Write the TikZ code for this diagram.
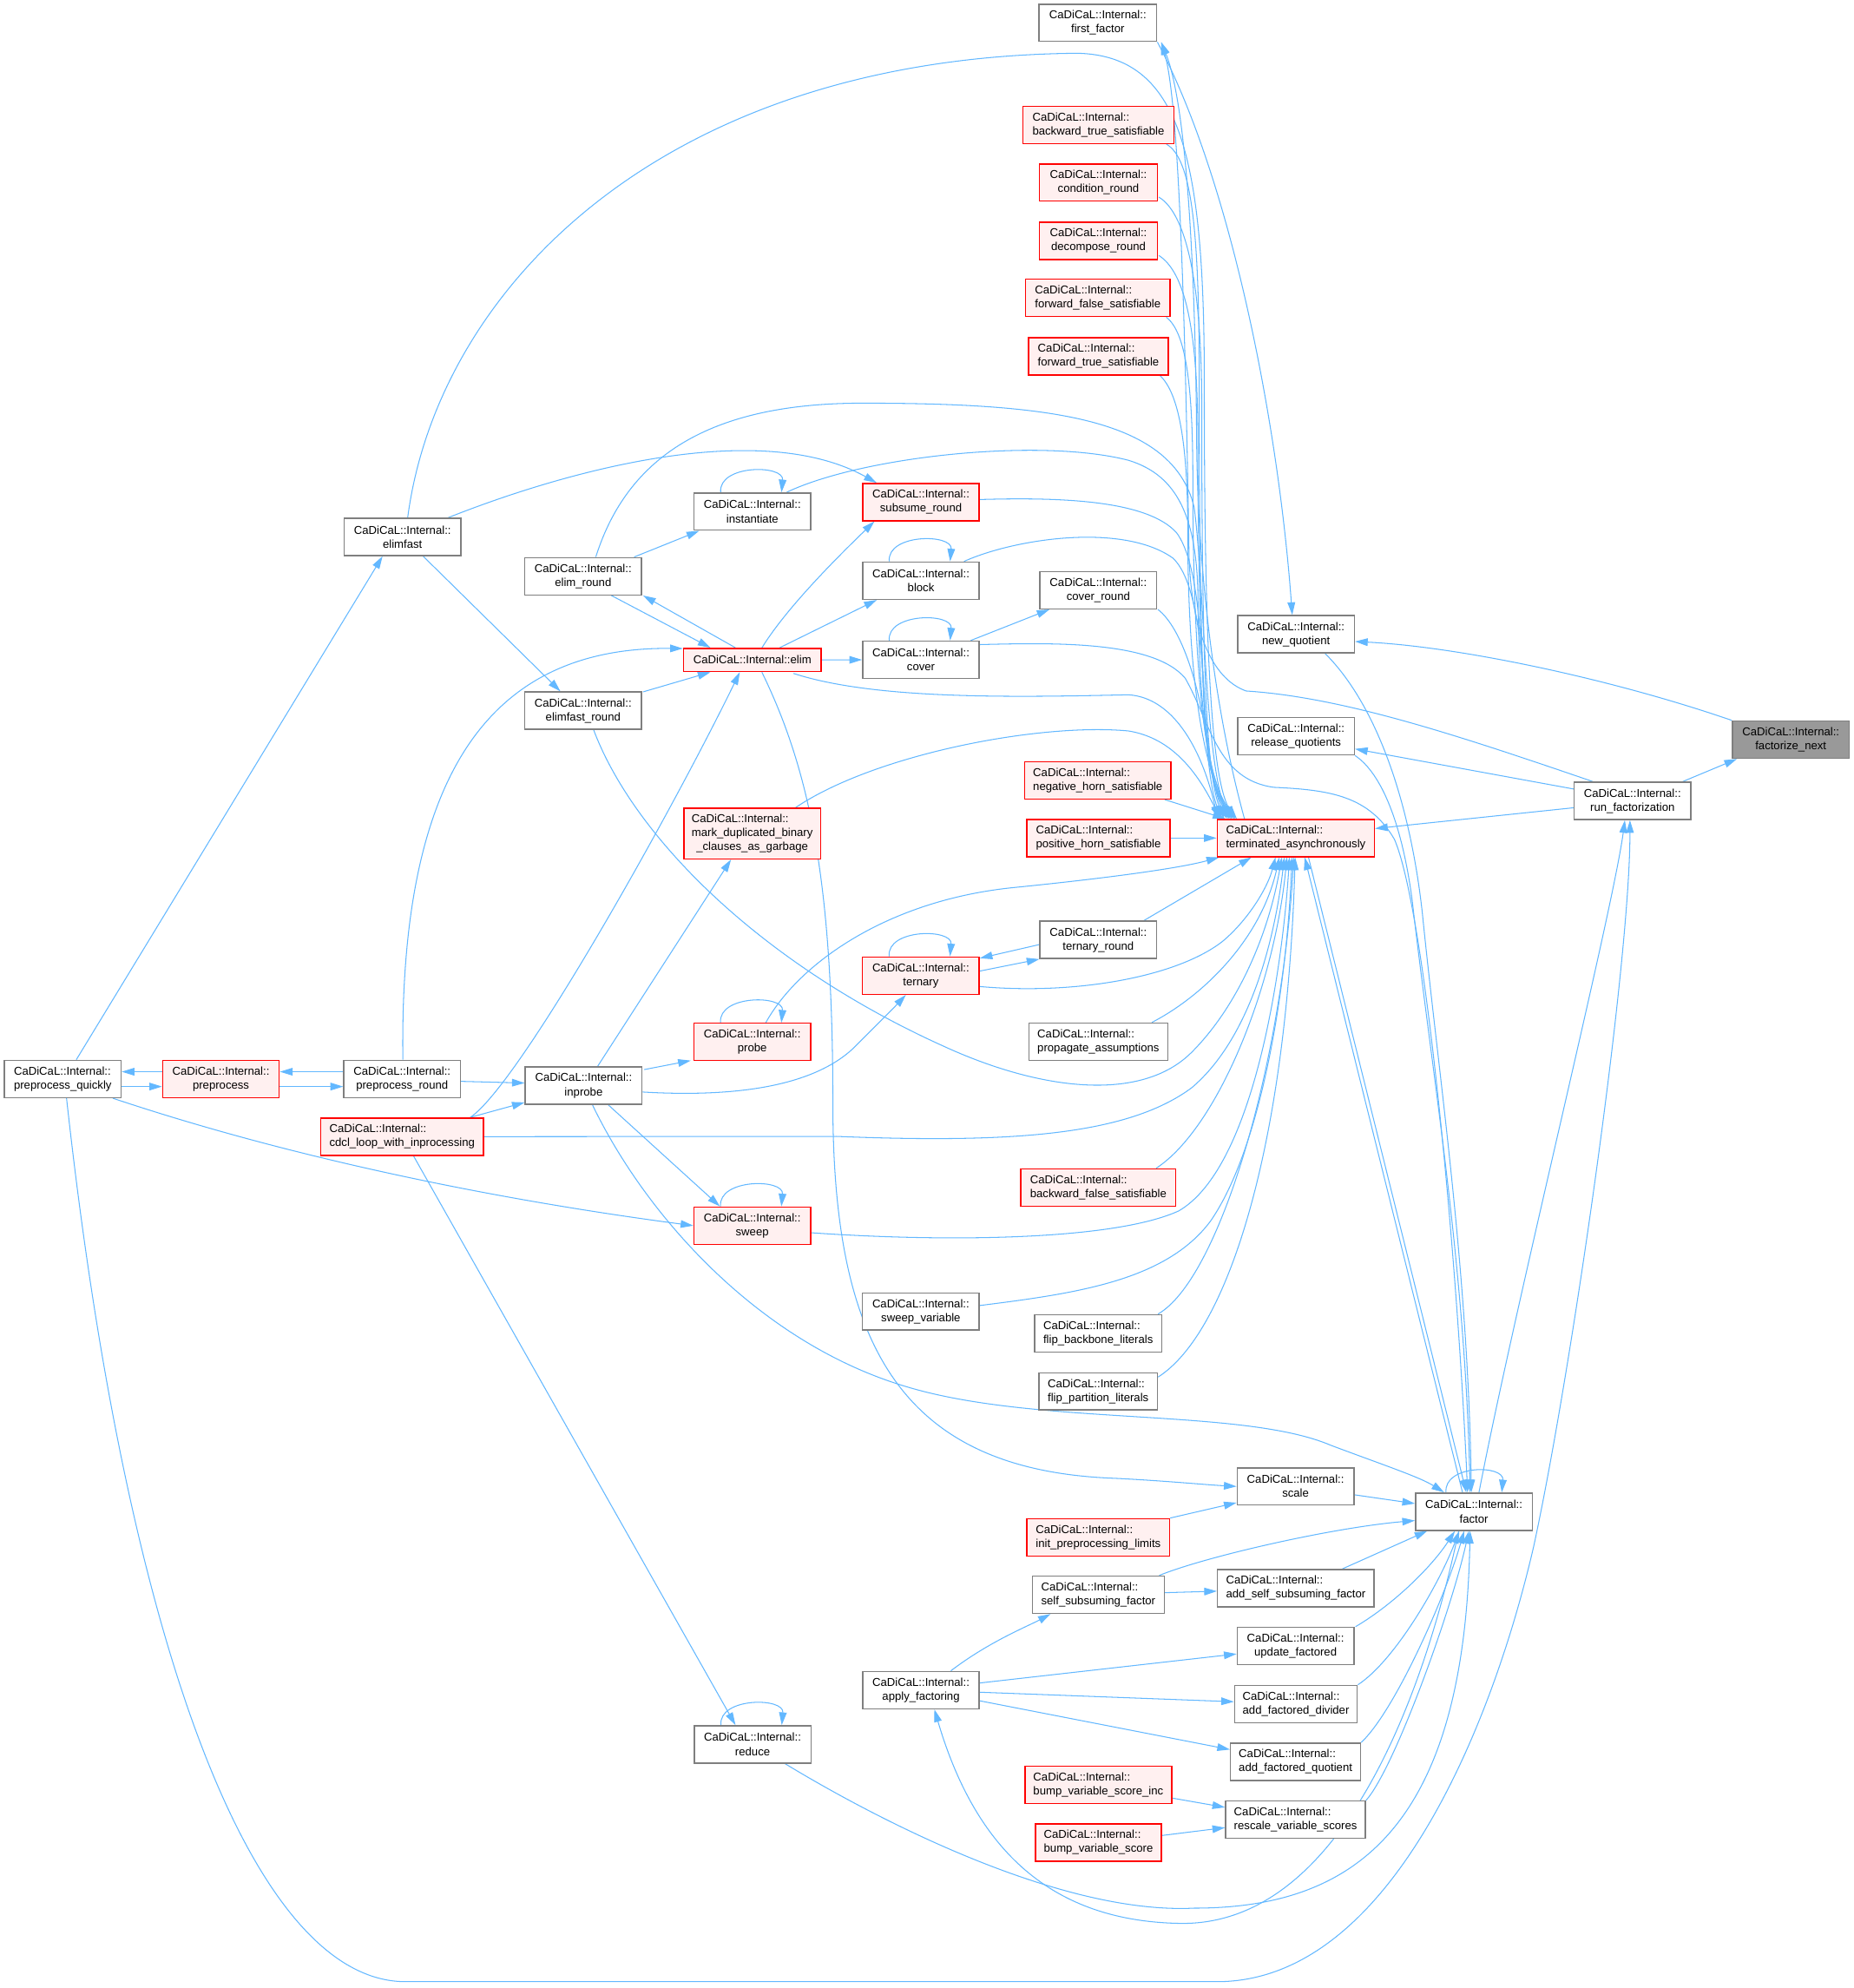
\documentclass[tikz,border=0pt]{standalone}
\usepackage{fontspec}
\setmainfont{Liberation Sans}
\usetikzlibrary{arrows.meta,calc}
\pgfdeclarelayer{bg}
\pgfdeclarelayer{paper}
\pgfsetlayers{paper,bg,main}
\definecolor{edgec}{HTML}{63B8FF}
\definecolor{ndb}{HTML}{7F7F7F}
\definecolor{redfill}{HTML}{FFF0F0}
\definecolor{rootfill}{HTML}{999999}
\newcommand\cdns{CaDiCaL::Internal::}
\newcommand\lbl[1]{\setbox0=\hbox{#1}\setbox2=\hbox{\cdns}\dimen0=\ifdim\wd0>\wd2 \wd0\else\wd2\fi\relax\vbox{\hsize=\dimen0 \baselineskip=7.7pt \hbox to\hsize{\cdns\hfil}\hbox to\hsize{\hfil#1\hfil}}}
\newcommand\lblthree[2]{\setbox0=\hbox{#1}\vbox{\hsize=\wd0 \baselineskip=7.7pt \hbox to\hsize{\cdns\hfil}\hbox to\hsize{\hfil#1\hfil}\hbox to\hsize{\hfil#2\hfil}}}
\begin{document}
\begin{tikzpicture}[x=0.7pt,y=-0.7pt,
  nd/.style={draw=ndb, fill=white, line width=0.7pt, inner sep=0pt, minimum height=20.58pt, font=\fontsize{6.3}{7.7}\selectfont},
  rd/.style={nd, draw=red, fill=redfill},
  rt/.style={nd, fill=rootfill},
  nw/.style={minimum width=#1*0.7pt},
  nh/.style={minimum height=#1*0.7pt},
  ar/.style={draw=edgec, line width=0.5pt, -{Triangle[length=7pt,width=4.2pt]}}]
\begin{pgfonlayer}{paper}
\fill[white] (0,0) rectangle (1462,1568);
\end{pgfonlayer}
\useasboundingbox (0,0) rectangle (1462,1568);
% nodes
\node[nd,nw=93] (ff) at (866,18) {\lbl{first\_factor}};
\node[rd,nw=119] (bts) at (866.5,98.5) {\lbl{backward\_true\_satisfiable}};
\node[rd,nw=93] (cr) at (866.5,144) {\lbl{condition\_round}};
\node[rd,nw=93] (dr) at (866.5,190) {\lbl{decompose\_round}};
\node[rd,nw=114] (ffs) at (866,235) {\lbl{forward\_false\_satisfiable}};
\node[rd,nw=110] (fts) at (866.5,281) {\lbl{forward\_true\_satisfiable}};
\node[nd,nw=92] (ef) at (317.5,423.5) {\lbl{elimfast}};
\node[nd,nw=92] (inst) at (593.5,403.5) {\lbl{instantiate}};
\node[rd,nw=92] (sr) at (726.5,396) {\lbl{subsume\_round}};
\node[nd,nw=92] (er) at (460,454.5) {\lbl{elim\_round}};
\node[nd,nw=92] (blk) at (726.5,458) {\lbl{block}};
\node[nd,nw=92] (cvr) at (866.4,465.5) {\lbl{cover\_round}};
\node[nd,nw=92] (nq) at (1022.4,500.3) {\lbl{new\_quotient}};
\node[rd,nw=108.7,nh=18.3] (elim) at (593.5,520.5) {CaDiCaL::Internal::elim};
\node[nd,nw=92] (cov) at (726.5,520.4) {\lbl{cover}};
\node[nd,nw=92] (efr) at (460,560.5) {\lbl{elimfast\_round}};
\node[nd,nw=92] (rq) at (1022.4,580.7) {\lbl{release\_quotients}};
\node[rt,nw=92] (fn) at (1412.7,583.4) {\lbl{factorize\_next}};
\node[nd,nw=92] (rf) at (1287.8,631.7) {\lbl{run\_factorization}};
\node[rd,nw=115.5] (nhs) at (866,615.5) {\lbl{negative\_horn\_satisfiable}};
\node[rd,nw=108,nh=40] (mdb) at (593.4,657.4) {\lblthree{mark\_duplicated\_binary}{\_clauses\_as\_garbage}};
\node[rd,nw=124] (term) at (1022.2,661) {\lbl{terminated\_asynchronously}};
\node[rd,nw=112.7] (phs) at (866.5,661) {\lbl{positive\_horn\_satisfiable}};
\node[nd,nw=92] (tr) at (866.4,741.3) {\lbl{ternary\_round}};
\node[rd,nw=92] (tern) at (726.4,769.5) {\lbl{ternary}};
\node[nd,nw=109.6] (pa) at (866.4,821.6) {\lbl{propagate\_assumptions}};
\node[rd,nw=92] (probe) at (593.4,821.8) {\lbl{probe}};
\node[nd,nw=92] (pq) at (49.5,851) {\lbl{preprocess\_quickly}};
\node[rd,nw=92] (pp) at (174.3,851) {\lbl{preprocess}};
\node[nd,nw=92] (pr) at (317.2,851) {\lbl{preprocess\_round}};
\node[nd,nw=92] (inp) at (460.4,856.3) {\lbl{inprobe}};
\node[rd,nw=128.4] (cdcl) at (317.2,896.5) {\lbl{cdcl\_loop\_with\_inprocessing}};
\node[rd,nw=122.4] (bfs) at (866.4,936.6) {\lbl{backward\_false\_satisfiable}};
\node[rd,nw=92] (sweep) at (593.4,966.7) {\lbl{sweep}};
\node[nd,nw=92] (sv) at (726.4,1034.4) {\lbl{sweep\_variable}};
\node[nd,nw=100.4] (fbb) at (866.3,1051.6) {\lbl{flip\_backbone\_literals}};
\node[nd,nw=93.6] (fpl) at (866.3,1097.4) {\lbl{flip\_partition\_literals}};
\node[nd,nw=92] (scl) at (1022,1172.4) {\lbl{scale}};
\node[nd,nw=92] (fac) at (1162.7,1192.3) {\lbl{factor}};
\node[rd,nw=112.5] (ipl) at (866.4,1212.5) {\lbl{init\_preprocessing\_limits}};
\node[nd,nw=123.5] (assf) at (1022.2,1252.6) {\lbl{add\_self\_subsuming\_factor}};
\node[nd,nw=104.1] (ssf) at (866.4,1257.8) {\lbl{self\_subsuming\_factor}};
\node[nd,nw=92] (uf) at (1022,1298.2) {\lbl{update\_factored}};
\node[nd,nw=92] (af) at (726.5,1333) {\lbl{apply\_factoring}};
\node[nd,nw=96.8] (afd) at (1022.3,1344) {\lbl{add\_factored\_divider}};
\node[nd,nw=92] (redu) at (593.7,1375.8) {\lbl{reduce}};
\node[nd,nw=102.5] (afq) at (1022,1389.5) {\lbl{add\_factored\_quotient}};
\node[rd,nw=115.6] (bvsi) at (866.4,1407.8) {\lbl{bump\_variable\_score\_inc}};
\node[nd,nw=110.2] (rvs) at (1022,1435.2) {\lbl{rescale\_variable\_scores}};
\node[rd,nw=99.1] (bvs) at (866.5,1453.3) {\lbl{bump\_variable\_score}};
\begin{pgfonlayer}{bg}
% right part
\draw[ar] ($(rf.north east)+(-7,0)$) -- ($(fn.south west)+(4,0)$);
\draw[ar] (fn.north west) .. controls (1270,535) and (1150,510) .. ($(nq.east)+(0,5.7)$);
\draw[ar] ($(rf.west)+(0,-9.4)$) -- ($(rq.east)+(0,10)$);
\draw[ar] ($(rf.west)+(0,5.4)$) -- ($(term.east)+(0,-7.5)$);
\draw[ar] ($(fac.north)+(4,0)$) .. controls (1195,1030) and (1272,720) .. ($(rf.south)+(-6,0)$);
\draw[ar] ($(pq.south)+(3,0)$) .. controls (100,1300) and (200,1563) .. (320,1563) -- (960,1563) .. controls (1100,1563) and (1180,1350) .. (1210,1219) .. controls (1240,1080) and (1285.8,760) .. ($(rf.south)+(-2,0)$);
\draw[ar] ($(nq.south)+(23,0)$) .. controls (1085,555) and (1112,630) .. (1122,720) .. controls (1135,850) and (1158,1000) .. ($(fac.north)+(-2,0)$);
\draw[ar] (rq.south east) .. controls (1090,610) and (1106,650) .. (1114,710) .. controls (1130,850) and (1156,1000) .. ($(fac.north)+(-3,0)$);
\draw[ar] ($(cov.east)+(0,-12)$) .. controls (830,507) and (910,505) .. (935,535) .. controls (955,570) and (960,615) .. (1005,621) .. controls (1050,623) and (1080,628) .. (1100,662) .. controls (1125,720) and (1150,1000) .. ($(fac.north)+(-5,0)$);
\draw[ar] ($(fac.north)+(-9,0)$) -- ($(term.south)+(7,0)$);
\draw[ar] ($(term.south)+(10,0)$) -- ($(fac.north)+(-6,0)$);
\draw[ar] ($(fac.north)+(-22,0)$) .. controls +(-2,-22) and +(2,-22) .. ($(fac.north)+(22,0)$);
% factor cluster
\draw[ar] ($(scl.east)+(0,6.6)$) -- ($(fac.west)+(0,-6.4)$);
\draw[ar] (ipl.north east) -- ($(scl.south west)+(0,-2.4)$);
\draw[ar] ($(ssf.north east)+(-4.5,0)$) .. controls (950,1228) and (1050,1205) .. ($(fac.west)+(0,7)$);
\draw[ar] ($(ssf.east)+(0,-1.6)$) -- ($(assf.west)+(0,2.4)$);
\draw[ar] ($(assf.north east)+(-25.5,0)$) -- ($(fac.south west)+(9.7,0)$);
\draw[ar] ($(uf.north east)+(0.8,0)$) .. controls (1100,1265) and (1130,1235) .. ($(fac.south)+(-15,0)$);
\draw[ar] (afd.north east) .. controls (1100,1310) and (1135,1250) .. ($(fac.south)+(-11.5,0)$);
\draw[ar] (afq.north east) .. controls (1100,1350) and (1140,1260) .. ($(fac.south)+(-7.7,0)$);
\draw[ar] (rvs.north east) .. controls (1100,1395) and (1145,1270) .. ($(fac.south)+(-4,0)$);
\draw[ar] ($(redu.south east)+(-21,0)$) .. controls (700,1440) and (840,1510) .. (942,1505) .. controls (1070,1505) and (1155,1440) .. ($(fac.south)+(-3,0)$);
\draw[ar] ($(fac.south)+(-12,0)$) .. controls (1125,1330) and (1060,1520) .. (930,1517) .. controls (830,1515) and (770,1460) .. ($(af.south)+(10.6,0)$);
\draw[ar] ($(af.north)+(23.6,0)$) .. controls (780,1295) and (810,1283) .. ($(ssf.south west)+(15,0)$);
\draw[ar] ($(af.east)+(0,-5.6)$) -- ($(uf.west)+(0,6.3)$);
\draw[ar] ($(af.east)+(0,1.7)$) -- ($(afd.west)+(0,-1.8)$);
\draw[ar] ($(af.east)+(0,8.5)$) -- ($(afq.west)+(0,-9.6)$);
\draw[ar] ($(bvsi.east)+(0,10.4)$) -- ($(rvs.west)+(0,-9.7)$);
\draw[ar] ($(bvs.east)+(0,-5.6)$) -- ($(rvs.west)+(0,6.3)$);
\draw[ar] ($(elim.south)+(7.5,0)$) .. controls (640,610) and (657,700) .. (657,870) .. controls (657,1060) and (710,1160) .. (880,1166) .. controls (920,1168) and (950,1171) .. (scl.west);
\draw[ar] ($(inp.south)+(7,0)$) .. controls (510,960) and (600,1060) .. (716,1094) .. controls (820,1125) and (980,1110) .. (1050,1140) .. controls (1090,1155) and (1120,1165) .. ($(fac.north west)+(23,0)$);
% bundle into terminated (top)
\draw[ar] ($(bts.south east)+(-6.4,0)$) .. controls (940,125) and (946,180) .. (946,300) .. controls (946,520) and (950,610) .. ($(term.north west)+(4,0)$);
\draw[ar] ($(cr.south east)+(0.7,-3.7)$) .. controls (935,168) and (948,220) .. (948,320) .. controls (948,530) and (952,612) .. ($(term.north west)+(6,0)$);
\draw[ar] ($(dr.south east)+(0.7,-3.7)$) .. controls (935,215) and (945,260) .. (945,350) .. controls (945,540) and (953,614) .. ($(term.north west)+(8,0)$);
\draw[ar] ($(ffs.south east)+(-3.4,0)$) .. controls (935,262) and (941,300) .. (941,380) .. controls (941,550) and (954,615) .. ($(term.north west)+(10,0)$);
\draw[ar] ($(fts.south east)+(-7,0)$) .. controls (930,310) and (937,350) .. (937,420) .. controls (937,560) and (955,616) .. ($(term.north west)+(12,0)$);
\draw[ar] ($(ef.north)+(4.1,0)$) .. controls (345,230) and (520,45) .. (850,42) .. controls (930,44) and (950,120) .. (950,300) .. controls (950,520) and (956,612) .. ($(term.north west)+(14,0)$);
\draw[ar] ($(rf.north west)+(15.4,0)$) .. controls (1150,580) and (1060,550) .. (983,545) .. controls (955,535) and (940,495) .. (938,440) .. controls (935,250) and (930,80) .. ($(ff.south east)+(3,0)$);
\draw[ar] ($(term.north west)+(22,0)$) .. controls (958,560) and (945,450) .. (944,350) .. controls (943,200) and (935,80) .. ($(ff.south east)+(3,0)$);
\draw[ar] (ff.south east) .. controls (970,140) and (1008,330) .. ($(nq.north)+(-3,0)$);
\draw[ar] ($(inst.north east)+(-19.5,0)$) .. controls (680,360) and (820,345) .. (890,363) .. controls (930,375) and (944,410) .. (945,470) .. controls (946,570) and (955,620) .. ($(term.north west)+(16,0)$);
\draw[ar] ($(er.north)+(10,0)$) .. controls (495,360) and (560,318) .. (680,318) .. controls (830,318) and (925,330) .. (942,400) .. controls (950,460) and (950,590) .. ($(term.north west)+(9,0)$);
\draw[ar] ($(sr.east)+(0,-2)$) .. controls (840,392) and (905,395) .. (928,420) .. controls (947,445) and (948,520) .. (950,560) .. controls (952,600) and (958,625) .. ($(term.north west)+(11,0)$);
\draw[ar] ($(blk.north east)+(-12.5,0)$) .. controls (800,425) and (885,412) .. (925,440) .. controls (945,458) and (949,520) .. (951,570) .. controls (953,610) and (962,630) .. ($(term.north west)+(13,0)$);
\draw[ar] ($(cvr.south east)+(0.5,0)$) .. controls (932,495) and (946,540) .. (952,585) .. controls (956,615) and (966,635) .. ($(term.north west)+(15,0)$);
\draw[ar] ($(elim.south east)+(-22.4,1)$) .. controls (690,552) and (800,550) .. (890,548) .. controls (925,550) and (948,590) .. ($(term.north west)+(1,0)$);
\draw[ar] ($(mdb.north east)+(-20.2,0)$) .. controls (690,595) and (820,570) .. (890,576.5) .. controls (925,582) and (945,610) .. ($(term.north west)+(3,0)$);
\draw[ar] ($(nhs.south east)+(-5.4,0)$) -- ($(term.north west)+(7,0)$);
\draw[ar] (phs.east) -- (term.west);
% into terminated (bottom)
\draw[ar] ($(tr.north east)+(-10.6,0)$) -- ($(term.south)+(-35,0)$);
\draw[ar] ($(tern.east)+(0,8.6)$) .. controls (850,785) and (930,770) .. (965,742) .. controls (985,725) and (1000,700) .. ($(term.south)+(-16,0)$);
\draw[ar] ($(pa.north east)+(-13,0)$) .. controls (950,785) and (995,740) .. ($(term.south)+(-13,0)$);
\draw[ar] ($(efr.south)+(8.3,0)$) .. controls (500,660) and (600,760) .. (744,825) .. controls (820,860) and (900,870) .. (940,830) .. controls (975,795) and (1000,740) .. ($(term.south)+(-11,0)$);
\draw[ar] (cdcl.east) -- (660,896.3) .. controls (800,902) and (890,895) .. (940,858) .. controls (985,820) and (1005,745) .. ($(term.south)+(-9,0)$);
\draw[ar] ($(bfs.north east)+(-16,0)$) .. controls (960,890) and (1005,780) .. ($(term.south)+(-7,0)$);
\draw[ar] ($(sweep.east)+(0,5.6)$) .. controls (750,980) and (880,978) .. (930,955) .. controls (990,920) and (1012,760) .. ($(term.south)+(-5,0)$);
\draw[ar] ($(sv.east)+(0,-4.7)$) .. controls (850,1020) and (920,1010) .. (955,963) .. controls (995,905) and (1015,780) .. ($(term.south)+(-3,0)$);
\draw[ar] ($(fbb.north east)+(-3.5,0)$) .. controls (960,1010) and (1010,850) .. ($(term.south)+(-1.5,0)$);
\draw[ar] ($(fpl.east)+(0,-11.3)$) .. controls (970,1050) and (1015,900) .. ($(term.south)+(-0.5,0)$);
\draw[ar] ($(probe.north)+(10.7,0)$) .. controls (630,760) and (700,710) .. (800,700) .. controls (870,693) and (930,685) .. ($(term.south west)+(2,0)$);
% left part
\draw[ar] ($(inp.east)+(0,5)$) .. controls (570,865) and (640,860) .. (675,825) .. controls (692,808) and (705,795) .. ($(tern.south)+(-11.8,0)$);
\draw[ar] ($(inp.north east)+(1.3,2.5)$) -- ($(probe.south west)+(-2,-0.5)$);
\draw[ar] ($(inp.north)+(11,0)$) -- ($(mdb.south)+(-16.7,0)$);
\draw[ar] ($(inp.south)+(19.5,0)$) -- ($(sweep.north west)+(21,0)$);
\draw[ar] ($(pq.south east)+(-7,0)$) .. controls (250,920) and (420,950) .. (sweep.west);
\draw[ar] ($(pq.north)+(10.7,0)$) -- ($(ef.south west)+(30.8,0)$);
\draw[ar] ($(pp.west)+(0,-5.7)$) -- ($(pq.east)+(0,-5.7)$);
\draw[ar] ($(pq.east)+(0,6)$) -- ($(pp.west)+(0,6)$);
\draw[ar] ($(pr.west)+(0,-5.7)$) -- ($(pp.east)+(0,-5.7)$);
\draw[ar] ($(pp.east)+(0,6)$) -- ($(pr.west)+(0,6)$);
\draw[ar] ($(pr.east)+(0,1.9)$) -- ($(inp.west)+(0,-2.1)$);
\draw[ar] ($(cdcl.north east)+(-10.9,0)$) -- ($(inp.south west)+(0,-2)$);
\draw[ar] ($(cdcl.north east)+(-10.9,0)$) .. controls (410,855) and (530,640) .. ($(elim.south)+(-9.9,0)$);
\draw[ar] ($(pr.north)+(0.6,0)$) .. controls (315,620) and (380,510) .. ($(elim.west)+(0,-9)$);
\draw[ar] ($(cdcl.south)+(9,0)$) -- ($(redu.north)+(-13.5,0)$);
\draw[ar] ($(efr.north east)+(0.8,0.4)$) -- ($(elim.south west)+(21.8,0)$);
\draw[ar] ($(er.south)+(22.3,0)$) -- ($(elim.north west)+(21.8,0)$);
\draw[ar] ($(elim.north)+(-13.4,0)$) -- ($(er.south east)+(0.8,0)$);
\draw[ar] ($(ef.south)+(16.3,0)$) -- ($(efr.north)+(-17.9,0)$);
\draw[ar] ($(er.north east)+(-6.2,0)$) -- ($(inst.south west)+(4.6,0)$);
\draw[ar] ($(elim.north)+(7.6,0)$) .. controls (620,480) and (660,440) .. ($(sr.south west)+(9.8,0)$);
\draw[ar] ($(elim.north)+(21.6,0)$) -- ($(blk.south west)+(11.6,0)$);
\draw[ar] (elim.east) -- (cov.west);
\draw[ar] ($(cov.north east)+(-7.3,0)$) -- ($(cvr.south west)+(8,0)$);
\draw[ar] ($(ef.north east)+(-10.5,0)$) .. controls (450,370) and (600,330) .. ($(sr.north west)+(11.5,0)$);
\draw[ar] ($(tr.west)+(0,3.7)$) -- ($(tern.north east)+(0,1.5)$);
\draw[ar] ($(tern.east)+(0,-3.6)$) -- (tr.south west);
% self loops
\foreach \n in {inst,blk,cov,tern,probe,sweep,redu} {
  \draw[ar] ($(\n.north)+(-25,0)$) .. controls +(-2,-22) and +(2,-22) .. ($(\n.north)+(23,0)$);
}
\end{pgfonlayer}
\end{tikzpicture}
\end{document}
